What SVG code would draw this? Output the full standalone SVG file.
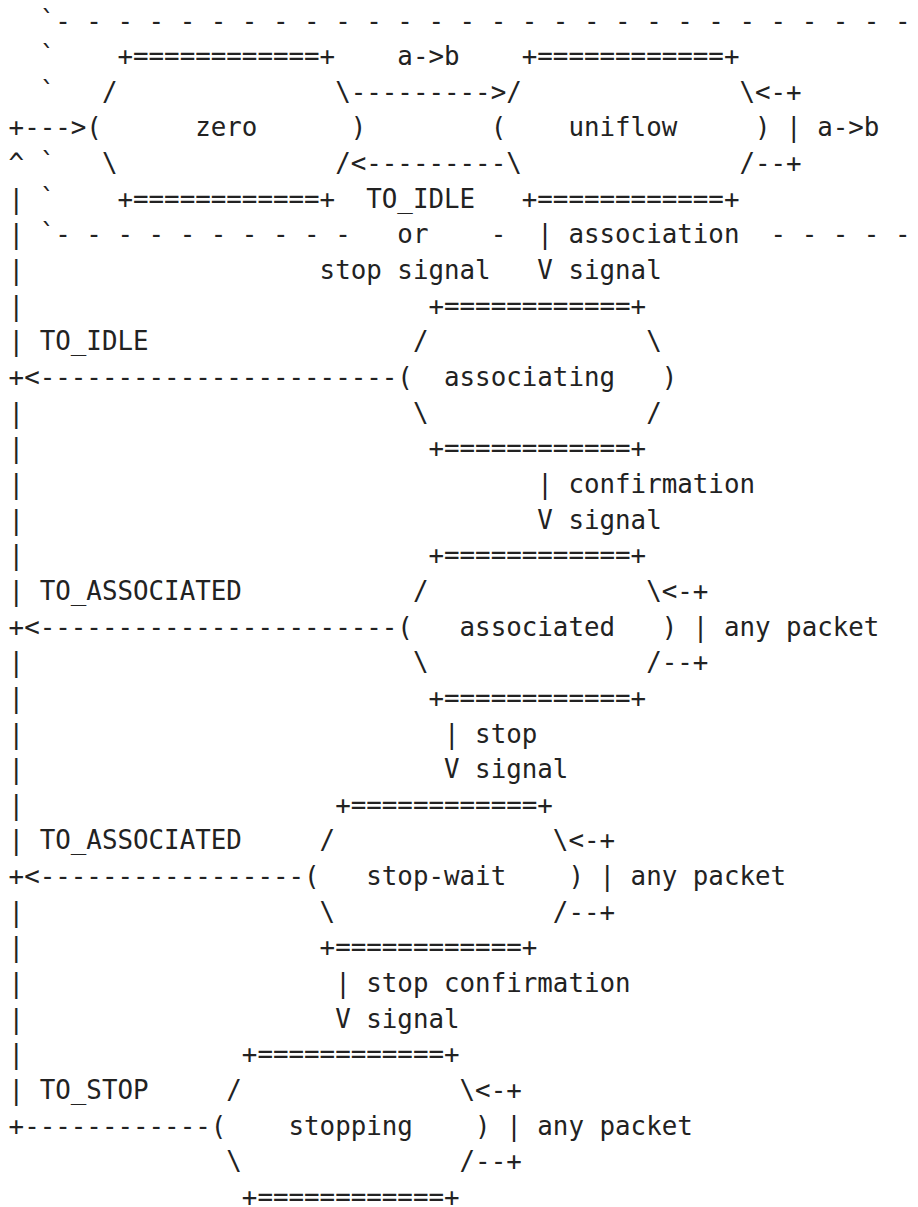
<svg xmlns="http://www.w3.org/2000/svg" width="918" height="1207" viewBox="0 0 918 1207">
<style>
text { font-family: "DejaVu Sans Mono", "Liberation Mono", monospace; font-size: 25.83px; fill: #222222; white-space: pre; }
</style>
<rect width="918" height="1207" fill="#ffffff"/>
<g id="boundary">
<text x="39.7" y="29.5">`- - - - - - - - - - - - - - - - - - - - - - - - - - - -</text>
<text x="39.7" y="65.15">`</text>
<text x="39.7" y="100.8">`</text>
<text x="39.7" y="172.1">`</text>
<text x="39.7" y="207.75">`</text>
<text x="39.7" y="243.4">`- - - - - - - - - -</text>
<text x="490.65" y="243.4">-</text>
<text x="770.55" y="243.4">- - - - -</text>
</g>
<g id="node-zero">
<text x="117.45" y="65.15">+============+</text>
<text x="101.9" y="100.8">/</text>
<text x="335.15" y="100.8">\</text>
<text x="86.35" y="136.45">(</text>
<text x="195.2" y="136.45">zero</text>
<text x="350.7" y="136.45">)</text>
<text x="101.9" y="172.1">\</text>
<text x="335.15" y="172.1">/</text>
<text x="117.45" y="207.75">+============+</text>
</g>
<g id="node-uniflow">
<text x="521.75" y="65.15">+============+</text>
<text x="506.2" y="100.8">/</text>
<text x="739.45" y="100.8">\</text>
<text x="490.65" y="136.45">(</text>
<text x="568.4" y="136.45">uniflow</text>
<text x="755" y="136.45">)</text>
<text x="506.2" y="172.1">\</text>
<text x="739.45" y="172.1">/</text>
<text x="521.75" y="207.75">+============+</text>
</g>
<g id="node-associating">
<text x="428.45" y="314.7">+============+</text>
<text x="412.9" y="350.35">/</text>
<text x="646.15" y="350.35">\</text>
<text x="397.35" y="386">(</text>
<text x="444" y="386">associating</text>
<text x="661.7" y="386">)</text>
<text x="412.9" y="421.65">\</text>
<text x="646.15" y="421.65">/</text>
<text x="428.45" y="457.3">+============+</text>
</g>
<g id="node-associated">
<text x="428.45" y="564.25">+============+</text>
<text x="412.9" y="599.9">/</text>
<text x="646.15" y="599.9">\</text>
<text x="397.35" y="635.55">(</text>
<text x="459.55" y="635.55">associated</text>
<text x="661.7" y="635.55">)</text>
<text x="412.9" y="671.2">\</text>
<text x="646.15" y="671.2">/</text>
<text x="428.45" y="706.85">+============+</text>
</g>
<g id="node-stop-wait">
<text x="335.15" y="813.8">+============+</text>
<text x="319.6" y="849.45">/</text>
<text x="552.85" y="849.45">\</text>
<text x="304.05" y="885.1">(</text>
<text x="366.25" y="885.1">stop-wait</text>
<text x="568.4" y="885.1">)</text>
<text x="319.6" y="920.75">\</text>
<text x="552.85" y="920.75">/</text>
<text x="319.6" y="956.4">+============+</text>
</g>
<g id="node-stopping">
<text x="241.85" y="1063.35">+============+</text>
<text x="226.3" y="1099">/</text>
<text x="459.55" y="1099">\</text>
<text x="210.75" y="1134.65">(</text>
<text x="288.5" y="1134.65">stopping</text>
<text x="475.1" y="1134.65">)</text>
<text x="226.3" y="1170.3">\</text>
<text x="459.55" y="1170.3">/</text>
<text x="241.85" y="1205.95">+============+</text>
</g>
<g id="connectors">
<!-- zero <-> uniflow -->
<text x="397.35" y="65.15">a-&gt;b</text>
<text x="350.7" y="100.8">---------&gt;</text>
<text x="350.7" y="172.1">&lt;---------</text>
<text x="366.25" y="207.75">TO_IDLE</text>
<text x="397.35" y="243.4">or</text>
<text x="319.6" y="279.05">stop signal</text>
<!-- uniflow self loop -->
<text x="755" y="100.8">&lt;-+</text>
<text x="786.1" y="136.45">|</text>
<text x="817.2" y="136.45">a-&gt;b</text>
<text x="755" y="172.1">--+</text>
<!-- uniflow -> associating -->
<text x="537.3" y="243.4">|</text>
<text x="568.4" y="243.4">association</text>
<text x="537.3" y="279.05">V</text>
<text x="568.4" y="279.05">signal</text>
<!-- associating -> associated -->
<text x="537.3" y="492.95">|</text>
<text x="568.4" y="492.95">confirmation</text>
<text x="537.3" y="528.6">V</text>
<text x="568.4" y="528.6">signal</text>
<!-- associated self loop -->
<text x="661.7" y="599.9">&lt;-+</text>
<text x="692.8" y="635.55">|</text>
<text x="723.9" y="635.55">any packet</text>
<text x="661.7" y="671.2">--+</text>
<!-- associated -> stop-wait -->
<text x="444" y="742.5">|</text>
<text x="475.1" y="742.5">stop</text>
<text x="444" y="778.15">V</text>
<text x="475.1" y="778.15">signal</text>
<!-- stop-wait self loop -->
<text x="568.4" y="849.45">&lt;-+</text>
<text x="599.5" y="885.1">|</text>
<text x="630.6" y="885.1">any packet</text>
<text x="568.4" y="920.75">--+</text>
<!-- stop-wait -> stopping -->
<text x="335.15" y="992.05">|</text>
<text x="366.25" y="992.05">stop confirmation</text>
<text x="335.15" y="1027.7">V</text>
<text x="366.25" y="1027.7">signal</text>
<!-- stopping self loop -->
<text x="475.1" y="1099">&lt;-+</text>
<text x="506.2" y="1134.65">|</text>
<text x="537.3" y="1134.65">any packet</text>
<text x="475.1" y="1170.3">--+</text>
<!-- left return bus -->
<text x="8.6" y="136.45">+---&gt;</text>
<text x="8.6" y="172.1">^</text>
<text x="8.6" y="207.75">|</text>
<text x="8.6" y="243.4">|</text>
<text x="8.6" y="279.05">|</text>
<text x="8.6" y="314.7">|</text>
<text x="8.6" y="350.35">|</text>
<text x="39.7" y="350.35">TO_IDLE</text>
<text x="8.6" y="386">+&lt;-----------------------</text>
<text x="8.6" y="421.65">|</text>
<text x="8.6" y="457.3">|</text>
<text x="8.6" y="492.95">|</text>
<text x="8.6" y="528.6">|</text>
<text x="8.6" y="564.25">|</text>
<text x="8.6" y="599.9">|</text>
<text x="39.7" y="599.9">TO_ASSOCIATED</text>
<text x="8.6" y="635.55">+&lt;-----------------------</text>
<text x="8.6" y="671.2">|</text>
<text x="8.6" y="706.85">|</text>
<text x="8.6" y="742.5">|</text>
<text x="8.6" y="778.15">|</text>
<text x="8.6" y="813.8">|</text>
<text x="8.6" y="849.45">|</text>
<text x="39.7" y="849.45">TO_ASSOCIATED</text>
<text x="8.6" y="885.1">+&lt;-----------------</text>
<text x="8.6" y="920.75">|</text>
<text x="8.6" y="956.4">|</text>
<text x="8.6" y="992.05">|</text>
<text x="8.6" y="1027.7">|</text>
<text x="8.6" y="1063.35">|</text>
<text x="8.6" y="1099">|</text>
<text x="39.7" y="1099">TO_STOP</text>
<text x="8.6" y="1134.65">+------------</text>
</g>
</svg>
